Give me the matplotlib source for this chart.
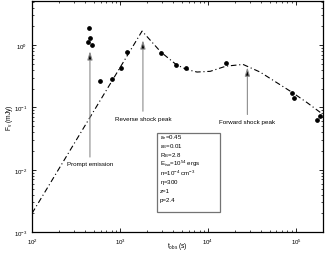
import matplotlib
matplotlib.use("Agg")
import matplotlib.pyplot as plt
from matplotlib.patches import Rectangle

plt.rcParams['font.family'] = ['Liberation Sans', 'DejaVu Sans']
plt.rcParams['mathtext.fontset'] = 'custom'
plt.rcParams['mathtext.rm'] = 'Liberation Sans'
plt.rcParams['mathtext.it'] = 'Liberation Sans'

# observed points
t_obs = [445, 456, 433, 480, 593, 811, 1026, 1202, 2923, 4330, 5620, 16000,
         90100, 94900, 173000, 187000]
flux = [1.88, 1.30, 1.12, 1.0, 0.27, 0.29, 0.43, 0.77, 0.74, 0.48, 0.43, 0.51,
        0.168, 0.14, 0.064, 0.072]

# model light curve
t_model = [100, 1780, 2923, 4330, 5620, 7500, 10600, 16000, 25000, 39000,
           60500, 90100, 133000, 196000]
f_model = [0.002, 1.68, 0.77, 0.49, 0.41, 0.37, 0.38, 0.46, 0.49, 0.37,
           0.25, 0.175, 0.12, 0.08]

# annotations: label, x, head y, tail y
labels = ['Prompt emission', 'Reverse shock peak', 'Forward shock peak']
lab_t = [455, 1820, 28000]
lab_head = [0.8, 1.2, 0.44]
lab_tail = [0.016, 0.087, 0.077]

params = ['$\\epsilon_e$=0.45', '$\\epsilon_B$=0.01', '$R_B$=2.8',
          '$E_{iso}$=10$^{54}$ ergs', 'n=10$^{-4}$ cm$^{-3}$',
          '$\\eta$=300', 'z=1', 'p=2.4']

fig = plt.figure(figsize=(3.27, 2.55), dpi=100)
ax = fig.add_axes([0.098, 0.086, 0.89, 0.906])

ax.plot(t_model, f_model, color='k', linestyle=(0, (5, 2.5, 1, 2.5)), lw=0.8)
ax.plot(t_obs, flux, 'o', color='k', markersize=2.4)

for lab, x, yh, yt in zip(labels, lab_t, lab_head, lab_tail):
    ax.annotate('', xy=(x, yh), xytext=(x, yt),
                arrowprops=dict(arrowstyle='-|>,head_length=0.5,head_width=0.15',
                                ec='0.55', fc='k', lw=0.8, shrinkA=0, shrinkB=0))
    ax.text(x, yt * 0.85, lab, ha='center', va='top', fontsize=4.5)

# parameter box
ax.add_patch(Rectangle((0.43, 0.087), 0.216, 0.342, transform=ax.transAxes,
                       fc='white', ec='0.45', lw=0.9, zorder=3))
for i, p in enumerate(params):
    ax.text(0.44, 0.415 - i * 0.039, p, transform=ax.transAxes, fontsize=4.4,
            va='center', ha='left', zorder=4)

ax.set_xscale('log')
ax.set_yscale('log')
ax.set_xlim(100, 2.03e5)
ax.set_ylim(1e-3, 5.1)
ax.tick_params(which='both', direction='in', top=True, right=True, labelsize=4.4)
ax.tick_params(which='major', length=3, width=0.6)
ax.tick_params(which='minor', length=1.6, width=0.5)
for s in ax.spines.values():
    s.set_linewidth(0.9)
ax.set_xlabel('t$_{obs}$ (s)', fontsize=4.8, va='center')
ax.xaxis.set_label_coords(0.5, -0.058)
ax.set_ylabel('F$_{\\nu}$ (mJy)', fontsize=4.8, va='center')
ax.yaxis.set_label_coords(-0.078, 0.5)

fig.savefig('out.png', dpi=100)
